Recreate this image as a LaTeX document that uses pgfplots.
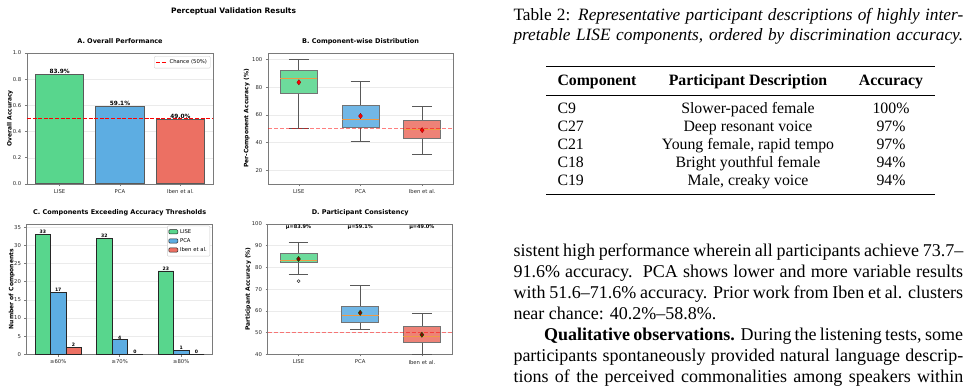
\documentclass[border=0pt]{standalone}
\usepackage{fontspec}
\setmainfont{Liberation Serif}
\newfontfamily\dvs{DejaVu Sans}
\usepackage{pgfplots}
\pgfplotsset{compat=1.18}
\usepgfplotslibrary{statistics}

\definecolor{cUSE}{HTML}{58D68D}
\definecolor{cPCA}{HTML}{5DADE2}
\definecolor{cIBN}{HTML}{EC7063}
\definecolor{bUSE}{HTML}{6DDB9C}
\definecolor{bPCA}{HTML}{71B7E6}
\definecolor{bIBN}{HTML}{EE8277}
\definecolor{medc}{HTML}{EE9A45}
\definecolor{spine}{HTML}{7A7A7A}

\pgfplotsset{
  panel/.style={
    scale only axis,
    anchor=north west,
    axis line style={spine, line width=0.8pt},
    tick style={spine, line width=0.6pt},
    tick align=outside,
    major tick length=2.2pt,
    xtick pos=bottom, ytick pos=left,
    ymajorgrids,
    grid style={black!8, line width=0.5pt},
    /pgf/number format/assume math mode=true,
    tick label style={font=\dvs\fontsize{5.3}{6}\selectfont, text=black!85},
    title style={font=\dvs\bfseries\fontsize{6.5}{7}\selectfont, at={(0.5,1)}, anchor=base, yshift=3.3pt, inner sep=0pt},
    ylabel style={font=\dvs\bfseries\fontsize{6}{7}\selectfont, anchor=center},
    legend cell align=left,
    boxplot/draw direction=y,
    boxplot/every whisker/.style={black!65, line width=0.7pt},
    boxplot/every median/.style={medc, line width=0.9pt},
  },
  chance/.style={red, opacity=0.5, line width=0.9pt, dash pattern=on 4pt off 2pt},
  meanB/.style={only marks, mark=diamond*, mark size=2.6pt, mark options={fill=red, draw=red!55!black, line width=0.3pt}},
  meanD/.style={only marks, mark=diamond*, mark size=2.6pt, mark options={fill=red!55!black, draw=green!35!black, line width=0.4pt}},
}

\begin{document}
\begin{tikzpicture}
\useasboundingbox (0pt,0pt) rectangle (974pt,390pt);

% main title
\node[font=\dvs\bfseries\fontsize{7.5}{8}\selectfont] at (233.5pt,379pt) {Perceptual Validation Results};

% ---------- Panel A ----------
\begin{axis}[panel, at={(27pt,337pt)}, width=186pt, height=131pt,
  xmin=-0.54, xmax=2.54, ymin=0, ymax=1.0,
  xtick={0,1,2}, xticklabels={LISE,PCA,Iben et al.},
  ytick={0,0.2,0.4,0.6,0.8,1.0},
  yticklabel style={/pgf/number format/.cd,fixed,fixed zerofill,precision=1},
  title={A. Overall Performance},
  ylabel={Overall Accuracy},
  ylabel style={at={(axis description cs:-0.0914,0.5)}},
  legend style={at={(0.985,0.975)}, anchor=north east, font=\dvs\fontsize{5.3}{6}\selectfont,
    draw=black!20, rounded corners=1pt, fill=white, inner sep=1.2pt, outer sep=0pt},
  legend image code/.code={\draw[#1] (0pt,0pt) -- (11pt,0pt);},
  nodes near coords style={font=\dvs\bfseries\fontsize{5.8}{6}\selectfont, anchor=south, inner sep=0.4pt, text=black},
]
\addplot[forget plot, ybar, bar width=0.8, bar shift=0pt, fill=cUSE, draw=black!65, line width=1.1pt,
  nodes near coords={83.9\%}] coordinates {(0,0.839)};
\addplot[forget plot, ybar, bar width=0.8, bar shift=0pt, fill=cPCA, draw=black!65, line width=1.1pt,
  nodes near coords={59.1\%}] coordinates {(1,0.591)};
\addplot[forget plot, ybar, bar width=0.8, bar shift=0pt, fill=cIBN, draw=black!65, line width=1.1pt,
  nodes near coords={49.0\%}] coordinates {(2,0.490)};
\addplot[red, line width=1.1pt, dash pattern=on 4pt off 1.6pt] coordinates {(-0.54,0.5) (2.54,0.5)};
\addlegendentry{Chance (50\%)}
\end{axis}

% ---------- Panel B ----------
\begin{axis}[panel, at={(268pt,337pt)}, width=185pt, height=131pt,
  xmin=0.5, xmax=3.5, ymin=10, ymax=104.8,
  xtick={1,2,3}, xticklabels={LISE,PCA,Iben et al.},
  ytick={20,40,60,80,100},
  title={B. Component-wise Distribution},
  ylabel={Per-Component Accuracy (\%)},
  ylabel style={at={(axis description cs:-0.115,0.5)}},
]
\addplot[draw=black!55, line width=0.7pt, boxplot/every box/.append style={fill=bUSE},
  boxplot prepared={draw position=1, lower whisker=50, lower quartile=75.6, median=86.5,
  upper quartile=92.5, upper whisker=100, box extend=0.6, whisker extend=0.32}] coordinates {};
\addplot[draw=black!55, line width=0.7pt, boxplot/every box/.append style={fill=bPCA},
  boxplot prepared={draw position=2, lower whisker=41, lower quartile=51.1, median=56.9,
  upper quartile=66.6, upper whisker=84.2, box extend=0.6, whisker extend=0.32}] coordinates {};
\addplot[draw=black!55, line width=0.7pt, boxplot/every box/.append style={fill=bIBN},
  boxplot prepared={draw position=3, lower whisker=31.8, lower quartile=43.2, median=49.5,
  upper quartile=56.4, upper whisker=66, box extend=0.6, whisker extend=0.32}] coordinates {};
\addplot[chance] coordinates {(0.5,50) (3.5,50)};
\addplot[meanB] coordinates {(1,83.6) (2,59.2) (3,49.0)};
\end{axis}

% ---------- Panel C ----------
\begin{axis}[panel, at={(26.7pt,166pt)}, width=186pt, height=130.3pt,
  xmin=-0.5125, xmax=2.5125, ymin=0, ymax=35.9,
  ybar=0pt, bar width=0.25,
  xtick={0,1,2}, xticklabels={≥60\%,≥70\%,≥80\%},
  ytick={0,5,10,15,20,25,30,35},
  title={C. Components Exceeding Accuracy Thresholds},
  ylabel={Number of Components},
  ylabel style={at={(axis description cs:-0.0806,0.5)}},
  legend style={at={(0.985,0.985)}, anchor=north east, font=\dvs\fontsize{5.3}{6}\selectfont,
    draw=black!20, rounded corners=1pt, fill=white, inner sep=1.2pt, outer sep=0pt, row sep=-0.3pt},
  legend image code/.code={\draw[#1, line width=0.5pt] (0pt,-2pt) rectangle (9pt,2.2pt);},
  nodes near coords,
  nodes near coords style={font=\dvs\bfseries\fontsize{4.6}{5}\selectfont, anchor=south, inner sep=0.4pt, text=black},
]
\addplot[fill=cUSE, draw=black!85, line width=0.6pt]
  coordinates {(0,33) (1,32) (2,23)};
\addlegendentry{LISE}
\addplot[fill=cPCA, draw=black!85, line width=0.6pt]
  coordinates {(0,17) (1,4) (2,1)};
\addlegendentry{PCA}
\addplot[fill=cIBN, draw=black!85, line width=0.6pt]
  coordinates {(0,2) (1,0) (2,0)};
\addlegendentry{Iben et al.}
\end{axis}

% ---------- Panel D ----------
\begin{axis}[panel, at={(267.7pt,166pt)}, width=185pt, height=130.3pt,
  xmin=0.5, xmax=3.5, ymin=40, ymax=100,
  xtick={1,2,3}, xticklabels={LISE,PCA,Iben et al.},
  ytick={40,50,60,70,80,90,100},
  title={D. Participant Consistency},
  ylabel={Participant Accuracy (\%)},
  ylabel style={at={(axis description cs:-0.105,0.5)}},
]
\addplot[draw=black!55, line width=0.7pt, boxplot/every box/.append style={fill=bUSE},
  boxplot prepared={draw position=1, lower whisker=76.8, lower quartile=82.2, median=83.1,
  upper quartile=86.3, upper whisker=91.6, box extend=0.6, whisker extend=0.32}] coordinates {};
\addplot[draw=black!55, line width=0.7pt, boxplot/every box/.append style={fill=bPCA},
  boxplot prepared={draw position=2, lower whisker=51.6, lower quartile=54.6, median=57.8,
  upper quartile=62.0, upper whisker=71.6, box extend=0.6, whisker extend=0.32}] coordinates {};
\addplot[draw=black!55, line width=0.7pt, boxplot/every box/.append style={fill=bIBN},
  boxplot prepared={draw position=3, lower whisker=40.2, lower quartile=45.4, median=48.2,
  upper quartile=52.8, upper whisker=58.8, box extend=0.6, whisker extend=0.32}] coordinates {};
\addplot[only marks, mark=o, mark size=1.5pt, mark options={black!80, line width=0.5pt}] coordinates {(1,73.7)};
\addplot[chance] coordinates {(0.5,50) (3.5,50)};
\addplot[meanD] coordinates {(1,83.9) (2,59.1) (3,49.0)};
\node[font=\dvs\bfseries\fontsize{5}{5}\selectfont] at (axis cs:1,98.6) {μ=83.9\%};
\node[font=\dvs\bfseries\fontsize{5}{5}\selectfont] at (axis cs:2,98.6) {μ=59.1\%};
\node[font=\dvs\bfseries\fontsize{5}{5}\selectfont] at (axis cs:3,98.6) {μ=49.0\%};
\end{axis}

% ---------- Table caption ----------
\begin{scope}[every node/.style={inner sep=0pt, anchor=base west}]
\node[font=\fontsize{17.3}{20}\selectfont] at (513.3pt,369.3pt)
  {\makebox[449.7pt][s]{Table 2: \textit{Representative participant descriptions of highly inter-}}};
\node[font=\fontsize{17.3}{20}\selectfont] at (513.3pt,349.5pt)
  {\makebox[449.7pt][s]{\textit{pretable LISE components, ordered by discrimination accuracy.}}};
\end{scope}

% ---------- Table ----------
\draw[line width=1.3pt] (546pt,323.3pt) -- (935pt,323.3pt);
\draw[line width=0.7pt] (546pt,295pt) -- (935pt,295pt);
\draw[line width=1.3pt] (546pt,195.7pt) -- (935pt,195.7pt);
\begin{scope}[every node/.style={inner sep=0pt, font=\fontsize{15.8}{18}\selectfont}]
\node[anchor=base west] at (557.3pt,304.6pt) {\bfseries Component};
\node[anchor=base] at (748pt,304.6pt) {\bfseries Participant Description};
\node[anchor=base] at (891pt,304.6pt) {\bfseries Accuracy};
\node[anchor=base west] at (557.3pt,276.4pt) {C9};
\node[anchor=base] at (748pt,276.4pt) {Slower-paced female};
\node[anchor=base] at (891pt,276.4pt) {100\%};
\node[anchor=base west] at (557.3pt,258.1pt) {C27};
\node[anchor=base] at (748pt,258.1pt) {Deep resonant voice};
\node[anchor=base] at (891pt,258.1pt) {97\%};
\node[anchor=base west] at (557.3pt,240.4pt) {C21};
\node[anchor=base] at (748pt,240.4pt) {Young female, rapid tempo};
\node[anchor=base] at (891pt,240.4pt) {97\%};
\node[anchor=base west] at (557.3pt,222pt) {C18};
\node[anchor=base] at (748pt,222pt) {Bright youthful female};
\node[anchor=base] at (891pt,222pt) {94\%};
\node[anchor=base west] at (557.3pt,204pt) {C19};
\node[anchor=base] at (748pt,204pt) {Male, creaky voice};
\node[anchor=base] at (891pt,204pt) {94\%};
\end{scope}

% ---------- Body text ----------
\begin{scope}[every node/.style={inner sep=0pt, anchor=base west, font=\fontsize{18.0}{21}\selectfont}]
\node at (513.3pt,133.3pt) {\makebox[449.7pt][s]{sistent high performance wherein all participants achieve 73.7--}};
\node at (513.3pt,112.3pt) {\makebox[449.7pt][s]{91.6\% accuracy.\ \ PCA shows lower and more variable results}};
\node at (513.3pt,91.3pt) {\makebox[449.7pt][s]{with 51.6--71.6\% accuracy. Prior work from Iben et al. clusters}};
\node at (513.3pt,70.3pt) {near chance: 40.2\%--58.8\%.};
\node at (513.3pt,49.3pt) {\makebox[449.7pt][s]{\hspace*{30.7pt}\textbf{Qualitative observations.} During the listening tests, some}};
\node at (513.3pt,28.3pt) {\makebox[449.7pt][s]{participants spontaneously provided natural language descrip-}};
\node at (513.3pt,7.3pt) {\makebox[449.7pt][s]{tions of the perceived commonalities among speakers within}};
\end{scope}
\end{tikzpicture}
\end{document}
